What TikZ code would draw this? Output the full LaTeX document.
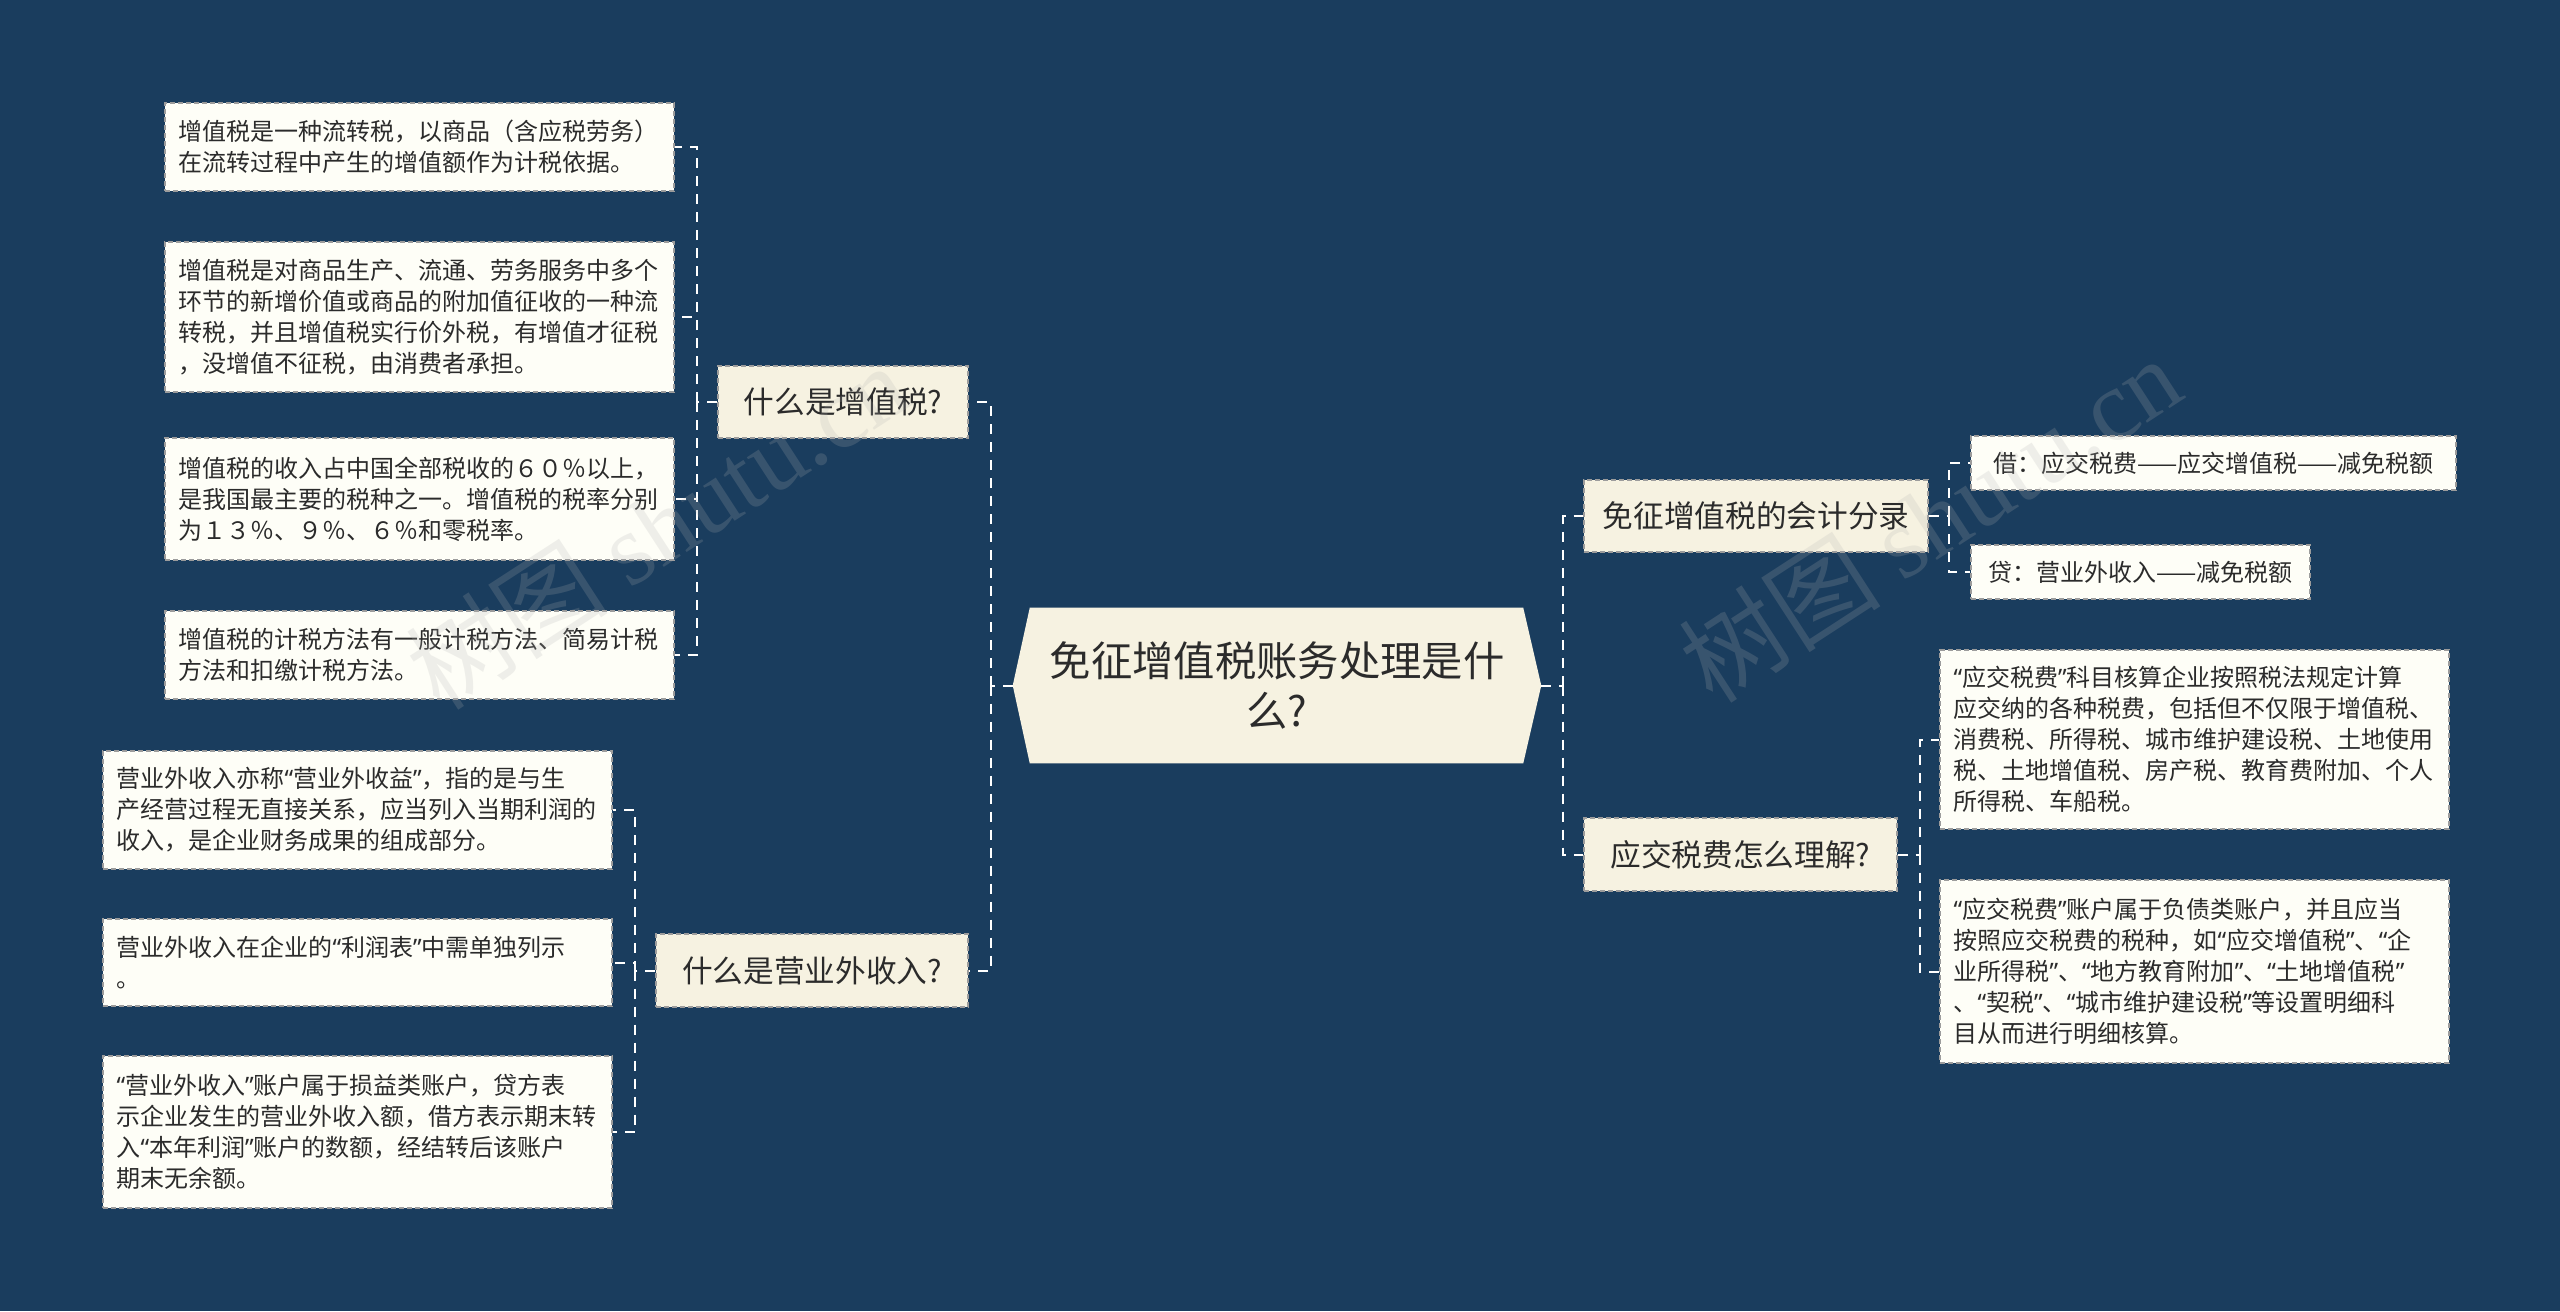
\documentclass[tikz,border=0pt]{standalone}
\usepackage{fontspec}
\setmainfont{Noto Sans CJK SC}
\newfontfamily\wmfont{Liberation Serif}
\newfontfamily\qfont{Noto Sans}
\newcommand{\myLq}{{\qfont “}}
\newcommand{\myRq}{{\qfont ”}}
\usetikzlibrary{calc}
\setlength{\parindent}{0pt}
\definecolor{bg}{HTML}{1A3D5E}
\definecolor{cream}{HTML}{F6F2E1}
\definecolor{leafc}{HTML}{FEFEF7}
\definecolor{txt}{HTML}{2B2B2B}
\definecolor{bd}{HTML}{9C9C9C}
\begin{document}
\begin{tikzpicture}[x=0.75pt,y=-0.75pt,
  conn/.style={draw=white, line width=1.5pt, dash pattern=on 7.5pt off 6pt},
  box/.style={draw=bd, line width=0.8pt, dash pattern=on 4pt off 2pt, text=txt, inner sep=0pt},
  leafbox/.style={box, fill=leafc, align=left, font=\fontsize{18pt}{23.25pt}\selectfont},
  wide/.style={leafbox, minimum width=381.75pt, text width=361.5pt},
  lonebox/.style={box, fill=cream, font=\fontsize{23pt}{28pt}\selectfont},
  wm/.style={text=gray!60, opacity=0.2, font=\fontsize{76pt}{76pt}\selectfont}
]
\fill[bg] (0,0) rectangle (2560,1311);
\useasboundingbox (0,0) rectangle (2560,1311);

% root
\node[minimum width=396pt, minimum height=116.25pt, inner sep=0pt] (root) at (1277,685.5) {};
\fill[cream] ($(root.north west)+(17,0)$) -- ($(root.north east)+(-18,0)$) -- (root.east)
  -- ($(root.south east)+(-18,0)$) -- ($(root.south west)+(17,0)$) -- (root.west) -- cycle;
\node[text=txt, align=center, font=\fontsize{31pt}{38pt}\selectfont] (roottext) at (root.center) {免征增值税账务处理是什\\么?};

% level 1
\node[lonebox, minimum width=187.5pt, minimum height=54pt] (l1a) at (843,402) {什么是增值税?};
\node[lonebox, minimum width=234pt, minimum height=54.75pt] (l1b) at (812,970.5) {什么是营业外收入?};
\node[lonebox, minimum width=258pt, minimum height=54pt] (r1a) at (1756,516) {免征增值税的会计分录};
\node[lonebox, minimum width=234.75pt, minimum height=54.75pt] (r1b) at (1740.5,854.5) {应交税费怎么理解?};

% group A
\node[wide, minimum height=66pt] (a1) at (419.5,147) {增值税是一种流转税，以商品（含应税劳务）\\在流转过程中产生的增值额作为计税依据。};
\node[wide, minimum height=112.5pt] (a2) at (419.5,317) {增值税是对商品生产、流通、劳务服务中多个\\环节的新增价值或商品的附加值征收的一种流\\转税，并且增值税实行价外税，有增值才征税\\，没增值不征税，由消费者承担。};
\node[wide, minimum height=91.5pt] (a3) at (419.5,499) {增值税的收入占中国全部税收的６０％以上，\\是我国最主要的税种之一。增值税的税率分别\\为１３％、９％、６％和零税率。};
\node[wide, minimum height=66pt] (a4) at (419.5,655) {增值税的计税方法有一般计税方法、简易计税\\方法和扣缴计税方法。};

% group B
\node[wide, minimum height=88.5pt] (b1) at (357.5,810) {营业外收入亦称\myLq{}营业外收益\myRq{}，指的是与生\\产经营过程无直接关系，应当列入当期利润的\\收入，是企业财务成果的组成部分。};
\node[wide, minimum height=65.25pt] (b2) at (357.5,962.5) {营业外收入在企业的\myLq{}利润表\myRq{}中需单独列示\\。};
\node[wide, minimum height=114pt] (b3) at (357.5,1132) {\myLq{}营业外收入\myRq{}账户属于损益类账户，贷方表\\示企业发生的营业外收入额，借方表示期末转\\入\myLq{}本年利润\myRq{}账户的数额，经结转后该账户\\期末无余额。};

% group C
\node[leafbox, minimum width=363.75pt, minimum height=40.5pt] (c1) at (2213.5,463) {借：应交税费——应交增值税——减免税额};
\node[leafbox, minimum width=254.25pt, minimum height=40.5pt] (c2) at (2140.5,572) {贷：营业外收入——减免税额};

% group D
\node[wide, minimum height=134.25pt] (d1) at (2194.5,739.5) {\myLq{}应交税费\myRq{}科目核算企业按照税法规定计算\\应交纳的各种税费，包括但不仅限于增值税、\\消费税、所得税、城市维护建设税、土地使用\\税、土地增值税、房产税、教育费附加、个人\\所得税、车船税。};
\node[wide, minimum height=137.25pt] (d2) at (2194.5,971.5) {\myLq{}应交税费\myRq{}账户属于负债类账户，并且应当\\按照应交税费的税种，如\myLq{}应交增值税\myRq{}、\myLq{}企\\业所得税\myRq{}、\myLq{}地方教育附加\myRq{}、\myLq{}土地增值税\myRq{}\\、\myLq{}契税\myRq{}、\myLq{}城市维护建设税\myRq{}等设置明细科\\目从而进行明细核算。};

% junctions
\coordinate (jl) at (991,685.5);
\coordinate (jr) at (1563,685.5);
\coordinate (ja) at (697,402);
\coordinate (jb) at (635,970.5);
\coordinate (jc) at (1949,516);
\coordinate (jd) at (1920,854.5);

% connectors
\draw[conn] (root.west) -- (jl);
\draw[conn] (jl) |- (l1a.east);
\draw[conn] (jl) |- (l1b.east);
\draw[conn] (root.east) -- (jr);
\draw[conn] (jr) |- (r1a.west);
\draw[conn] (jr) |- (r1b.west);

\draw[conn] (l1a.west) -- (ja);
\foreach \n in {a1,a2,a3,a4} \draw[conn] (ja) |- (\n.east);
\draw[conn] (l1b.west) -- (jb);
\foreach \n in {b1,b2,b3} \draw[conn] (jb) |- (\n.east);
\draw[conn] (r1a.east) -- (jc);
\foreach \n in {c1,c2} \draw[conn] (jc) |- (\n.west);
\draw[conn] (r1b.east) -- (jd);
\foreach \n in {d1,d2} \draw[conn] (jd) |- (\n.west);

% watermarks
\node[wm, rotate=33] (wm1) at (657,526) {树图 {\wmfont shutu.cn}};
\node[wm, rotate=33] (wm2) at (1930,519) {树图 {\wmfont shutu.cn}};
\end{tikzpicture}
\end{document}
